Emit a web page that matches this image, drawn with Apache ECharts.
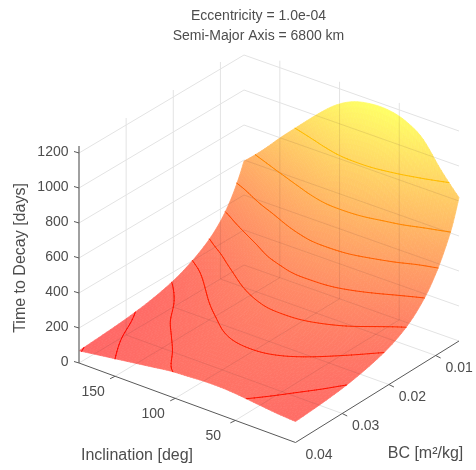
<!DOCTYPE html>
<html><head><meta charset="utf-8">
<style>html,body{margin:0;padding:0;background:#fff}#c{width:476px;height:470px}</style>
<script src="https://cdn.jsdelivr.net/npm/echarts@6/dist/echarts.min.js"></script>
</head><body><div id="c"></div>
<script>
// ---- data ----
const titleLines = ['Eccentricity = 1.0e-04', 'Semi-Major Axis = 6800 km'];
const inclination = [0,15,30,45,60,75,90,105,120,135,150,165,180];
const bcValues = [0.005,0.0065,0.008,0.01,0.0125,0.016,0.02,0.025,0.03,0.035,0.04];
const decay005  = [820,940,1080,1150,1178,1176,1150,1090,1000,900,798,690,594];
const decay0065 = [677,769,869,962,1008,1015,992,923,831,738,654,566,491];
const decay008  = [575,638,719,788,850,863,844,781,700,625,556,481,410];
const decay010  = [465,512,580,625,670,685,675,630,570,510,455,392,330];
const decay0125 = [364,408,456,496,528,538,532,500,458,408,360,310,262];
const decay016  = [272,309,347,378,400,406,403,381,353,312,272,231,199];
const decay020  = [211,242,272,294,308,312,310,295,272,242,210,178,150];
const decay025  = [169,193,215,231,242,245,242,230,212,190,165,138,114];
const decay030  = [143,162,181,195,203,205,202,192,175,157,138,115,93];
const decay035  = [129,141,156,170,177,178,174,166,149,133,117,99,80];
const decay040  = [120,127,138,150,158,158,152,145,130,115,100,85,70];
const decayRows = [decay005,decay0065,decay008,decay010,decay0125,decay016,decay020,decay025,decay030,decay035,decay040];
const contourLevels = [72,100,147,200,266,368,491,653,885];
const inclTicks = [150,100,50];
const bcTicks = [0.01,0.02,0.03,0.04];
const zTicks = [0,200,400,600,800,1000,1200];
const xName = 'Inclination [deg]', yName = 'BC [m²/kg]', zName = 'Time to Decay [days]';

// ---- view: floor corners and vertical scale ----
const cL=[79,363], cF=[295.5,442.5], cB=[244,265], cR=[459,341];
const zPx = 210/1200, zTop = 1240, bcMin = 0.005, bcMax = 0.04, incMax = 180;
const FONT = '14px "Liberation Sans", Arial, sans-serif';
const NAMEFONT = '16px "Liberation Sans", Arial, sans-serif';
const TXT = '#4d4d4d';
function project(inc, bc, z){
  const a=(incMax-inc)/incMax, b=(bcMax-bc)/(bcMax-bcMin);
  const x=(1-a)*(1-b)*cL[0]+a*(1-b)*cF[0]+(1-a)*b*cB[0]+a*b*cR[0];
  const y=(1-a)*(1-b)*cL[1]+a*(1-b)*cF[1]+(1-a)*b*cB[1]+a*b*cR[1];
  return [x, y-z*zPx];
}
// ---- smooth refinement for drawing (spline in log value) ----
const SUB=6;
const cr=(p0,p1,p2,p3,t)=>0.5*(2*p1+(p2-p0)*t+(2*p0-5*p1+4*p2-p3)*t*t+(3*p1-p0-3*p2+p3)*t*t*t);
const pick=(arr,i)=>{const n=arr.length; if(i<0) return 2*arr[0]-arr[1]; if(i>=n) return 2*arr[n-1]-arr[n-2]; return arr[i];};
const spl=(arr,u)=>{let i=Math.min(Math.floor(u),arr.length-2);return cr(pick(arr,i-1),pick(arr,i),pick(arr,i+1),pick(arr,i+2),u-i);};
const fineInc=[],fineBc=[];
for(let k=0;k<=(inclination.length-1)*SUB;k++) fineInc.push(spl(inclination,k/SUB));
for(let j=0;j<=(bcValues.length-1)*SUB;j++) fineBc.push(spl(bcValues,j/SUB));
const fineCols=inclination.map((_,k)=>fineBc.map((_,j)=>spl(decayRows.map(r=>Math.log(r[k])),j/SUB)));
const fineZ=fineBc.map((_,j)=>fineInc.map((_,k)=>Math.exp(spl(fineCols.map(c=>c[j]),k/SUB))));
let zMin=Infinity,zMax=-Infinity;
decayRows.forEach(r=>r.forEach(v=>{zMin=Math.min(zMin,v);zMax=Math.max(zMax,v);}));
const tOf=z=>Math.max(0,Math.min(1,(z-zMin)/(zMax-zMin)));
const surfColor=z=>`rgb(255,${Math.round(102+153*tOf(z))},102)`;
const lineColor=z=>`rgb(255,${Math.round(255*tOf(z))},0)`;
const cells=[];
for(let j=0;j<fineBc.length-1;j++) for(let k=0;k<fineInc.length-1;k++) cells.push([j,k]);
const segs=[];
contourLevels.forEach(L=>{
  for(let j=0;j<fineBc.length-1;j++) for(let k=0;k<fineInc.length-1;k++){
    const cs=[[j,k],[j,k+1],[j+1,k+1],[j+1,k]], pts=[];
    for(let e=0;e<4;e++){
      const A=cs[e],B=cs[(e+1)%4],za=fineZ[A[0]][A[1]],zb=fineZ[B[0]][B[1]];
      if((za<L)!==(zb<L)){
        const t=(L-za)/(zb-za);
        pts.push([fineInc[A[1]]+(fineInc[B[1]]-fineInc[A[1]])*t, fineBc[A[0]]+(fineBc[B[0]]-fineBc[A[0]])*t]);
      }
    }
    if(pts.length>=2) segs.push({L,p:pts[0],q:pts[1]});
    if(pts.length===4) segs.push({L,p:pts[2],q:pts[3]});
  }
});
const gridSegs=[];
zTicks.forEach(z=>{
  gridSegs.push([[incMax,bcMax,z],[incMax,bcMin,z]]);
  gridSegs.push([[incMax,bcMin,z],[0,bcMin,z]]);
});
bcTicks.slice(0,3).forEach(bc=>{
  gridSegs.push([[incMax,bc,0],[incMax,bc,zTop]]);
  gridSegs.push([[0,bc,0],[incMax,bc,0]]);
});
inclTicks.forEach(i=>{
  gridSegs.push([[i,bcMin,0],[i,bcMin,zTop]]);
  gridSegs.push([[i,bcMax,0],[i,bcMin,0]]);
});
const outline=[];
fineInc.forEach((v,k)=>outline.push(project(v,fineBc[0],fineZ[0][k])));
fineBc.forEach((v,j)=>outline.push(project(incMax,v,fineZ[j][fineInc.length-1])));
for(let k=fineInc.length-1;k>=0;k--) outline.push(project(fineInc[k],bcMax,fineZ[fineBc.length-1][k]));
for(let j=fineBc.length-1;j>=0;j--) outline.push(project(0,fineBc[j],fineZ[j][0]));

function gridItem(api,seg,stroke){
  const a=api.coord(project(...seg[0])),b=api.coord(project(...seg[1]));
  return {type:'line',shape:{x1:a[0],y1:a[1],x2:b[0],y2:b[1]},style:{stroke,lineWidth:1,fill:null}};
}
const labels=[];
titleLines.forEach((t,i)=>labels.push({t,x:258.5,y:16+i*20,f:FONT}));
labels.push({t:xName,x:137,y:456,f:NAMEFONT});
labels.push({t:yName,x:425.5,y:454,f:NAMEFONT});
labels.push({t:zName,x:21,y:258,rot:Math.PI/2,f:NAMEFONT});
const data0=[[0,0]];
const option={
  animation:false,
  grid:{left:0,right:0,top:0,bottom:0},
  xAxis:{type:'value',min:0,max:476,show:false},
  yAxis:{type:'value',min:0,max:470,inverse:true,show:false},
  series:[
   {type:'custom',name:'grid',coordinateSystem:'cartesian2d',silent:true,clip:false,data:gridSegs.map(s=>project(...s[0])),
    renderItem:(p,api)=>gridItem(api,gridSegs[p.dataIndex],'#e3e3e3')},
   {type:'custom',name:'Time to Decay',coordinateSystem:'cartesian2d',silent:true,clip:false,progressive:0,
    data:cells.map(([j,k])=>project(fineInc[k],fineBc[j],fineZ[j][k])),
    renderItem:(p,api)=>{
      const [j,k]=cells[p.dataIndex];
      const cn=[[j,k],[j,k+1],[j+1,k+1],[j+1,k]];
      let s=0;
      const pts=cn.map(([a,b])=>{s+=fineZ[a][b];return api.coord(project(fineInc[b],fineBc[a],fineZ[a][b]));});
      const col=surfColor(s/4);
      return {type:'polygon',shape:{points:pts},style:{fill:col,stroke:col,lineWidth:0.7}};
    }},
   {type:'custom',name:'gridThrough',coordinateSystem:'cartesian2d',silent:true,clip:false,data:data0,
    renderItem:(p,api)=>({type:'group',
      clipPath:{type:'polygon',shape:{points:outline.map(o=>api.coord(o))}},
      children:gridSegs.map(s=>gridItem(api,s,'rgba(70,40,40,0.11)'))})},
   {type:'custom',name:'contours',coordinateSystem:'cartesian2d',silent:true,clip:false,progressive:0,
    data:segs.map(s=>s.p),
    renderItem:(p,api)=>{
      const s=segs[p.dataIndex];
      const a=api.coord(project(s.p[0],s.p[1],s.L)),b=api.coord(project(s.q[0],s.q[1],s.L));
      return {type:'line',shape:{x1:a[0],y1:a[1],x2:b[0],y2:b[1]},style:{stroke:lineColor(s.L),lineWidth:1,lineCap:'round'}};
    }},
   {type:'custom',name:'axes',coordinateSystem:'cartesian2d',silent:true,clip:false,data:data0,
    renderItem:(p,api)=>{
      const ch=[];
      const ln=(a,b,stroke,w)=>{const A=api.coord(a),B=api.coord(b);ch.push({type:'line',shape:{x1:A[0],y1:A[1],x2:B[0],y2:B[1]},style:{stroke,lineWidth:w}});};
      const tx=(t,x,y,align)=>{const A=api.coord([x,y]);ch.push({type:'text',style:{text:t,x:A[0],y:A[1],align,verticalAlign:'middle',fill:TXT,font:FONT}});};
      ln(project(incMax,bcMax,0),project(0,bcMax,0),'#595959',1);
      ln(project(0,bcMax,0),project(0,bcMin,0),'#595959',1);
      ln(project(incMax,bcMax,0),project(incMax,bcMax,zTop),'#808080',1.5);
      zTicks.forEach(z=>{const q=project(incMax,bcMax,z);ln(q,[q[0]-5,q[1]-1.5],'#595959',1);tx(String(z),q[0]-10.5,q[1]-.5,'right');});
      inclTicks.forEach(i=>{const q=project(i,bcMax,0);ln(q,[q[0]-5,q[1]+2.5],'#595959',1);tx(String(i),q[0]-22,q[1]+16,'center');});
      bcTicks.forEach(b=>{const q=project(0,b,0);if(b<0.04)ln(q,[q[0]+5,q[1]+2.5],'#595959',1);tx(b.toFixed(2),q[0]+23.5,q[1]+13,'center');});
      labels.forEach(l=>{const A=api.coord([l.x,l.y]);ch.push({type:'text',x:A[0],y:A[1],rotation:l.rot||0,style:{text:l.t,x:0,y:0,align:'center',verticalAlign:'middle',fill:TXT,font:l.f}});});
      return {type:'group',children:ch};
    }}
  ]
};
const chart=echarts.init(document.getElementById('c'));
chart.setOption(option);
</script></body></html>
